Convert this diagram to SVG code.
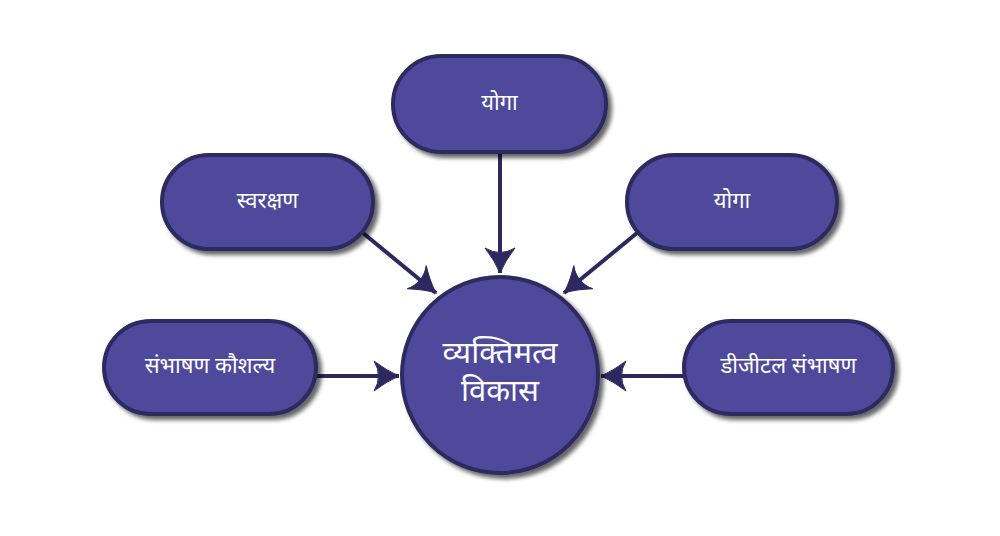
<svg xmlns="http://www.w3.org/2000/svg" width="1000" height="536" viewBox="0 0 1000 536">
<style>
.node{fill:#4f4a9c;stroke:#2d2960;stroke-width:4;filter:url(#sh)}
.lbl{fill:#ffffff;font-family:"Noto Sans Devanagari","Noto Sans","Lohit Devanagari",sans-serif;font-size:22px;font-weight:400;text-anchor:middle;dominant-baseline:central}
.big{font-size:31px}
.con{stroke:#2d2960;stroke-width:4;fill:none;marker-end:url(#ah)}
</style>
<defs>
<filter id="sh" x="-20%" y="-20%" width="150%" height="150%">
<feDropShadow dx="4" dy="4" stdDeviation="2" flood-color="#000" flood-opacity="0.6"/>
</filter>
<marker id="ah" markerUnits="userSpaceOnUse" markerWidth="34" markerHeight="34" refX="26" refY="16" orient="auto" viewBox="0 0 34 32">
<path d="M1,1 Q14,11 26,16 Q14,21 1,31 Q10,16 1,1 Z" fill="#2d2960" stroke="#2d2960" stroke-width="1"/>
</marker>
</defs>
<g id="connectors">
<line class="con" x1="500" y1="152" x2="500" y2="273"/>
<line class="con" x1="363" y1="233" x2="436" y2="293"/>
<line class="con" x1="637" y1="233" x2="564" y2="293"/>
<line class="con" x1="316" y1="376" x2="399" y2="376"/>
<line class="con" x1="684" y1="376" x2="601" y2="376"/>
</g>
<g id="n-top">
<rect class="node" x="393" y="56" width="213" height="96" rx="48"/>
<text class="lbl" x="499.5" y="104">योगा</text>
</g>
<g id="n-swaraksha">
<rect class="node" x="162" y="155" width="211" height="94" rx="47"/>
<text class="lbl" x="267.5" y="202">स्वरक्षण</text>
</g>
<g id="n-yoga2">
<rect class="node" x="627" y="155" width="210" height="94" rx="47"/>
<text class="lbl" x="732" y="202">योगा</text>
</g>
<g id="n-sambhashan">
<rect class="node" x="104" y="321" width="212" height="93" rx="46.5"/>
<text class="lbl" x="210" y="367">संभाषण कौशल्य</text>
</g>
<g id="n-digital">
<rect class="node" x="684" y="321" width="209" height="93" rx="46.5"/>
<text class="lbl" x="788.5" y="367">डीजीटल संभाषण</text>
</g>
<g id="n-center">
<circle class="node" cx="500" cy="375" r="98"/>
<text class="lbl big" x="500" y="355">व्यक्तिमत्व</text>
<text class="lbl big" x="500" y="393">विकास</text>
</g>
</svg>
